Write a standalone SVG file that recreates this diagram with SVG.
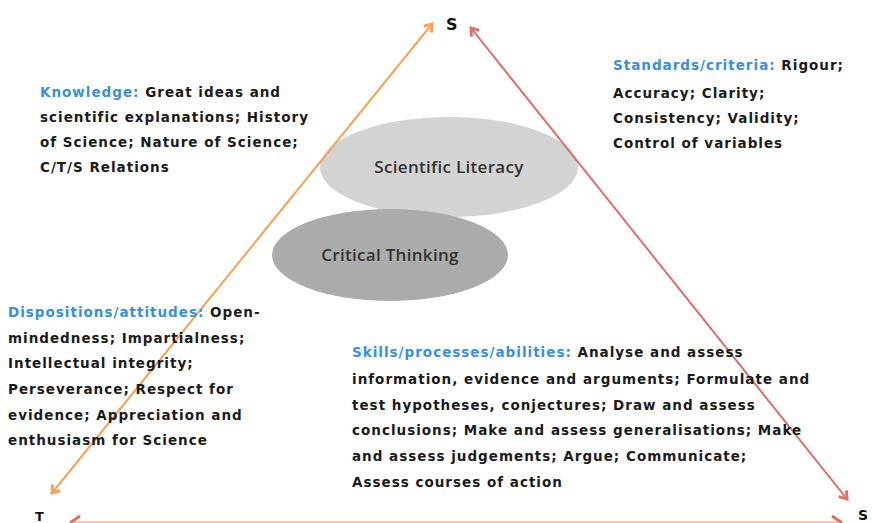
<svg xmlns="http://www.w3.org/2000/svg" width="873" height="523" viewBox="0 0 873 523">
<style>
.t{font-family:"DejaVu Sans",Verdana,sans-serif;font-weight:bold;font-size:13.5px;letter-spacing:1px;fill:#1a1a1a}
.b{fill:#3a8fd8}
.v{font-family:"DejaVu Sans",sans-serif;font-weight:bold;font-size:16px;fill:#111}
.e{font-family:"Open Sans","Liberation Sans",sans-serif;font-size:17px;font-weight:600;letter-spacing:0.3px;fill:#333;text-anchor:middle}
</style>
<defs>
<marker id="mo" markerWidth="12" markerHeight="12" refX="9" refY="6" orient="auto-start-reverse" markerUnits="userSpaceOnUse">
<polyline points="2,1 9,6 2,11" fill="none" stroke="#f5a35a" stroke-width="3"/>
</marker>
<marker id="mr" markerWidth="12" markerHeight="12" refX="9" refY="6" orient="auto-start-reverse" markerUnits="userSpaceOnUse">
<polyline points="2,1 9,6 2,11" fill="none" stroke="#d9706a" stroke-width="3"/>
</marker>
</defs>
<rect width="873" height="523" fill="#fff"/>
<g id="sl"><ellipse cx="449" cy="167" rx="129" ry="50" fill="#d3d3d3"/><text class="e" x="449" y="173">Scientific Literacy</text></g>
<g id="ct"><ellipse cx="390" cy="255" rx="118" ry="46" fill="#ababab"/><text class="e" x="390" y="261">Critical Thinking</text></g>
<g id="connectors">
<line x1="52" y1="493" x2="432" y2="24" stroke="#f5a35a" stroke-width="2" marker-start="url(#mo)" marker-end="url(#mo)"/>
<line x1="471" y1="28" x2="847" y2="499" stroke="#d9706a" stroke-width="2" marker-start="url(#mr)" marker-end="url(#mr)"/>
<line x1="72" y1="522" x2="840" y2="522" stroke="#f7c9a8" stroke-width="2"/>
<polyline points="80,516 70,523" fill="none" stroke="#d9706a" stroke-width="3"/>
<polyline points="832,516 842,523" fill="none" stroke="#d9706a" stroke-width="3"/>
</g>
<g id="vS"><text class="v" x="446" y="30">S</text></g>
<g id="vT"><text class="v" x="35" y="521" style="font-size:13px">T</text></g>
<g id="vS2"><text class="v" x="858" y="520" style="font-size:14px">S</text></g>
<g id="knowledge">
<text class="t" x="40" y="97"><tspan class="b">Knowledge:</tspan> Great ideas and</text>
<text class="t" x="40" y="122">scientific explanations; History</text>
<text class="t" x="40" y="147">of Science; Nature of Science;</text>
<text class="t" x="40" y="172">C/T/S Relations</text>
</g>
<g id="standards">
<text class="t" x="613" y="70"><tspan class="b">Standards/criteria:</tspan> Rigour;</text>
<text class="t" x="613" y="98">Accuracy; Clarity;</text>
<text class="t" x="613" y="123">Consistency; Validity;</text>
<text class="t" x="613" y="148">Control  of variables</text>
</g>
<g id="dispositions">
<text class="t" x="8" y="317"><tspan class="b">Dispositions/attitudes:</tspan> Open-</text>
<text class="t" x="8" y="343">mindedness; Impartialness;</text>
<text class="t" x="8" y="368">Intellectual integrity;</text>
<text class="t" x="8" y="394">Perseverance; Respect for</text>
<text class="t" x="8" y="420">evidence; Appreciation and</text>
<text class="t" x="8" y="445">enthusiasm for Science</text>
</g>
<g id="skills">
<text class="t" x="352" y="357"><tspan class="b">Skills/processes/abilities:</tspan> Analyse and assess</text>
<text class="t" x="352" y="384">information, evidence and arguments; Formulate and</text>
<text class="t" x="352" y="410">test hypotheses, conjectures; Draw and assess</text>
<text class="t" x="352" y="435">conclusions; Make and assess generalisations; Make</text>
<text class="t" x="352" y="461">and assess judgements; Argue; Communicate;</text>
<text class="t" x="352" y="487">Assess courses of action</text>
</g>
</svg>
